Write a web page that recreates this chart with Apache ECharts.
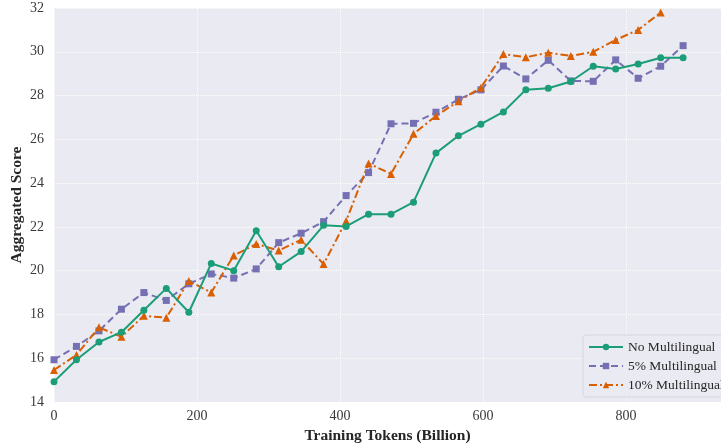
<!DOCTYPE html>
<html>
<head>
<meta charset="utf-8">
<script src="https://cdn.jsdelivr.net/npm/echarts@6/dist/echarts.min.js"></script>
<style>html,body{margin:0;padding:0;background:#fff;}#c{width:721px;height:446px;}</style>
</head>
<body>
<div id="c"></div>
<script>
const tokens = [0, 31.4, 62.9, 94.3, 125.7, 157.1, 188.6, 220, 251.4, 282.9, 314.3, 345.7, 377.1, 408.6, 440, 471.4, 502.9, 534.3, 565.7, 597.1, 628.6, 660, 691.4, 722.9, 754.3, 785.7, 817.1, 848.6, 880];
const noMulti = [14.93, 15.93, 16.74, 17.19, 18.19, 19.19, 18.1, 20.33, 20.0, 21.82, 20.18, 20.87, 22.07, 22.02, 22.58, 22.58, 23.13, 25.37, 26.16, 26.69, 27.25, 28.27, 28.33, 28.64, 29.34, 29.21, 29.44, 29.73, 29.73];
const multi5 = [15.93, 16.54, 17.25, 18.24, 19.0, 18.64, 19.4, 19.85, 19.66, 20.08, 21.28, 21.71, 22.24, 23.43, 24.48, 26.71, 26.73, 27.24, 27.83, 28.26, 29.35, 28.76, 29.61, 28.67, 28.65, 29.63, 28.79, 29.34, 30.28];
const multi10 = [15.46, 16.15, 17.41, 16.98, 17.94, 17.85, 19.53, 19.0, 20.69, 21.22, 20.92, 21.41, 20.3, 22.27, 24.9, 24.42, 26.25, 27.07, 27.74, 28.36, 29.9, 29.75, 29.96, 29.81, 30.0, 30.54, 31.0, 31.79];
const seriesNames = ['No Multilingual', '5% Multilingual', '10% Multilingual'];
const yTicks = [14, 16, 18, 20, 22, 24, 26, 28, 30, 32];
const xTicks = [0, 200, 400, 600, 800];

const pair = (xs, ys) => ys.map((v, i) => [xs[i], v]);
const font = '"Liberation Serif", "DejaVu Serif", serif';
const chart = echarts.init(document.getElementById('c'), null, {renderer: 'canvas'});
chart.setOption({
  animation: false,
  backgroundColor: '#ffffff',
  textStyle: {fontFamily: font},
  grid: {left: 54, right: 0, top: 8, bottom: 44, backgroundColor: '#EAEAF2', show: true, borderWidth: 0,
    containLabel: false, outerBoundsMode: 'none'},
  xAxis: {
    type: 'value', min: 0, max: 933, interval: 200,
    name: 'Training Tokens (Billion)', nameLocation: 'middle', nameGap: 26, nameMoveOverlap: false,
    nameTextStyle: {fontFamily: font, fontSize: 15.5, fontWeight: 'bold', color: '#262626'},
    axisLine: {show: false}, axisTick: {show: false},
    axisLabel: {fontFamily: font, fontSize: 14, color: '#3a3a3a', margin: 7,
      formatter: v => xTicks.includes(v) ? String(v) : ''},
    splitLine: {show: true, lineStyle: {color: 'rgba(255,255,255,0.9)', type: 'dotted', width: 1}}
  },
  yAxis: {
    type: 'value', min: yTicks[0], max: yTicks[yTicks.length - 1], interval: 2,
    name: 'Aggregated Score', nameLocation: 'middle', nameGap: 29, nameMoveOverlap: false,
    nameTextStyle: {fontFamily: font, fontSize: 15.5, fontWeight: 'bold', color: '#262626'},
    axisLine: {show: false}, axisTick: {show: false},
    axisLabel: {fontFamily: font, fontSize: 14, color: '#3a3a3a', margin: 10},
    splitLine: {show: true, lineStyle: {color: 'rgba(255,255,255,0.9)', type: 'dotted', width: 1}}
  },
  legend: {
    data: seriesNames,
    orient: 'vertical', left: 583, top: 335,
    itemWidth: 34, itemHeight: 8, itemGap: 5,
    padding: [5, 8, 5, 5],
    backgroundColor: 'rgba(234,234,242,0.9)', borderColor: '#d6d6de', borderWidth: 1, borderRadius: 3,
    textStyle: {fontFamily: font, fontSize: 13.5, color: '#262626', padding: [0, 0, 0, 0]}
  },
  series: [
    {name: seriesNames[0], type: 'line', data: pair(tokens, noMulti), symbol: 'circle', symbolSize: 7,
      itemStyle: {color: '#1b9e77'}, lineStyle: {color: '#1b9e77', width: 2}, z: 3},
    {name: seriesNames[1], type: 'line', data: pair(tokens, multi5), symbol: 'rect', symbolSize: 7,
      itemStyle: {color: '#7570b3'}, lineStyle: {color: '#7570b3', width: 2, type: [7, 4]}, z: 2},
    {name: seriesNames[2], type: 'line', data: pair(tokens, multi10), symbol: 'triangle', symbolSize: 8,
      itemStyle: {color: '#d95f02'}, lineStyle: {color: '#d95f02', width: 2, type: [8, 3, 2, 3]}, z: 2}
  ]
});
</script>
</body>
</html>
